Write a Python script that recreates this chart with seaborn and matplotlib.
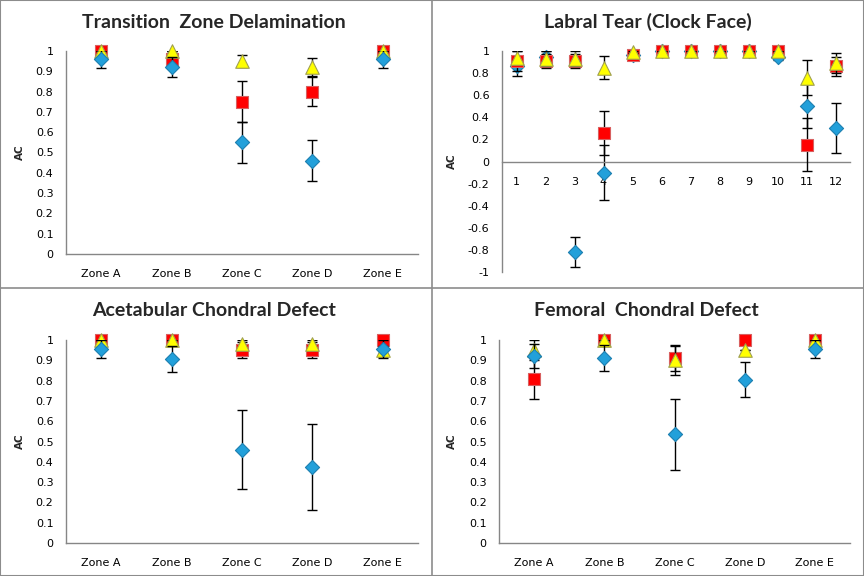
import matplotlib
matplotlib.use("Agg")
import matplotlib.pyplot as plt
import numpy as np
import pandas as pd
import seaborn as sns

### Data ###

zones = ["Zone A", "Zone B", "Zone C", "Zone D", "Zone E"]
clock = [str(i) for i in range(1, 13)]

# Transition Zone Delamination
tzd_blue = [0.96, 0.92, 0.55, 0.46, 0.96]
tzd_blue_err = [0.045, 0.05, 0.10, 0.10, 0.045]
tzd_red = [1.0, 0.96, 0.75, 0.80, 1.0]
tzd_red_err = [0.0, 0.04, 0.10, 0.07, 0.0]
tzd_yellow = [1.0, 1.0, 0.95, 0.92, 1.0]
tzd_yellow_err = [0.0, 0.0, 0.03, 0.045, 0.0]

# Labral Tear (Clock Face)
lt_blue = [0.86, 0.95, -0.82, -0.10, 0.96, 1.0, 1.0, 1.0, 1.0, 0.95, 0.50, 0.30]
lt_blue_err = [0.09, 0.05, 0.135, 0.25, 0.04, 0.0, 0.0, 0.0, 0.0, 0.03, 0.20, 0.225]
lt_red = [0.91, 0.91, 0.91, 0.26, 0.96, 1.0, 1.0, 1.0, 1.0, 1.0, 0.15, 0.86]
lt_red_err = [0.09, 0.06, 0.06, 0.20, 0.03, 0.0, 0.0, 0.0, 0.0, 0.0, 0.24, 0.09]
lt_yellow = [0.94, 0.93, 0.93, 0.85, 0.99, 1.0, 1.0, 1.0, 1.0, 1.0, 0.76, 0.89]
lt_yellow_err = [0.06, 0.07, 0.07, 0.105, 0.01, 0.0, 0.0, 0.0, 0.0, 0.0, 0.16, 0.09]

# Acetabular Chondral Defect
acd_blue = [0.955, 0.905, 0.46, 0.375, 0.955]
acd_blue_err = [0.045, 0.065, 0.195, 0.21, 0.045]
acd_red = [1.0, 1.0, 0.95, 0.95, 1.0]
acd_red_err = [0.0, 0.0, 0.04, 0.04, 0.0]
acd_yellow = [1.0, 1.0, 0.98, 0.98, 0.95]
acd_yellow_err = [0.0, 0.0, 0.02, 0.02, 0.02]

# Femoral Chondral Defect
fcd_blue = [0.92, 0.91, 0.535, 0.805, 0.955]
fcd_blue_err = [0.06, 0.065, 0.175, 0.085, 0.045]
fcd_red = [0.81, 1.0, 0.91, 1.0, 1.0]
fcd_red_err = [0.10, 0.0, 0.065, 0.0, 0.0]
fcd_yellow = [0.95, 1.0, 0.90, 0.95, 1.0]
fcd_yellow_err = [0.05, 0.0, 0.07, 0.0, 0.0]

### Styles ###

series_style = {
    "blue": dict(marker="D", s=52, color="#22A0DA", edgecolor="#1C7FB0"),
    "red": dict(marker="s", s=68, color="#FF0000", edgecolor="#D86060"),
    "yellow": dict(marker="^", s=95, color="#FFFF00", edgecolor="#A0A050"),
}

panels = [
    dict(title="Transition  Zone Delamination", cats=zones,
         series={"blue": (tzd_blue, tzd_blue_err), "red": (tzd_red, tzd_red_err),
                 "yellow": (tzd_yellow, tzd_yellow_err)},
         order=["red", "yellow", "blue"], ylim=(0, 1), step=0.1,
         rect=[66 / 864, 1 - 254 / 576, 352 / 864, 203 / 576]),
    dict(title="Labral Tear (Clock Face)", cats=clock,
         series={"blue": (lt_blue, lt_blue_err), "red": (lt_red, lt_red_err),
                 "yellow": (lt_yellow, lt_yellow_err)},
         order=["blue", "red", "yellow"], ylim=(-1, 1), step=0.2,
         rect=[502 / 864, 1 - 272 / 576, 348 / 864, 221 / 576]),
    dict(title="Acetabular Chondral Defect", cats=zones,
         series={"blue": (acd_blue, acd_blue_err), "red": (acd_red, acd_red_err),
                 "yellow": (acd_yellow, acd_yellow_err)},
         order=["red", "yellow", "blue"], ylim=(0, 1), step=0.1,
         rect=[66 / 864, 1 - 543 / 576, 352 / 864, 203 / 576]),
    dict(title="Femoral  Chondral Defect", cats=zones,
         series={"blue": (fcd_blue, fcd_blue_err), "red": (fcd_red, fcd_red_err),
                 "yellow": (fcd_yellow, fcd_yellow_err)},
         order=["red", "yellow", "blue"], ylim=(0, 1), step=0.1,
         rect=[499 / 864, 1 - 543 / 576, 351 / 864, 203 / 576]),
]

### Plot ###

sns.set_style("white")
plt.rcParams["font.family"] = ["DejaVu Sans"]

fig = plt.figure(figsize=(8.64, 5.76), dpi=100)

for p in panels:
    ax = fig.add_axes(p["rect"])
    cats = p["cats"]

    for z, name in enumerate(p["order"]):
        vals, errs = p["series"][name]
        ax.errorbar(cats, vals, yerr=errs, fmt="none", ecolor="black",
                    elinewidth=1.0, capsize=3.5, capthick=1.0, zorder=2 + z * 2)
        st = series_style[name]
        df = pd.DataFrame({"cat": cats, "value": vals})
        sns.scatterplot(data=df, x="cat", y="value", ax=ax, marker=st["marker"],
                        s=st["s"], color=st["color"], edgecolor=st["edgecolor"],
                        linewidth=0.8, clip_on=False, zorder=3 + z * 2, legend=False)

    lo, hi = p["ylim"]
    ax.set_ylim(lo, hi)
    ax.set_xlim(-0.5, len(cats) - 0.5)
    ticks = np.round(np.arange(lo, hi + p["step"] / 2, p["step"]), 1) + 0.0
    ax.set_yticks(ticks)
    ax.set_yticklabels([f"{t:g}" if abs(t) > 1e-9 else "0" for t in ticks])

    for side in ["top", "right"]:
        ax.spines[side].set_visible(False)
    for side in ["left", "bottom"]:
        ax.spines[side].set_color("#868686")
        ax.spines[side].set_linewidth(1.0)
    if lo < 0:
        ax.spines["bottom"].set_position(("data", 0))

    ax.tick_params(axis="both", length=0, labelsize=8, colors="black")
    ax.tick_params(axis="y", pad=9)
    ax.tick_params(axis="x", pad=11)

    ax.set_xlabel("")
    ax.set_ylabel("AC", fontsize=7.5, fontweight="bold")
    x0 = p["rect"][0] * 864
    ax.yaxis.set_label_coords(-(x0 - (25 if x0 < 432 else 457)) / (p["rect"][2] * 864), 0.5)

    cx = p["rect"][0] + p["rect"][2] / 2 - (28 / 864)
    cy = (1 - 22 / 576) if p["rect"][1] > 0.5 else (1 - 311 / 576)
    fig.text(cx, cy, p["title"], ha="center", va="center", fontsize=14,
             fontweight="bold", family=["Lato", "DejaVu Sans"])

# panel dividers and outer border
fig.add_artist(plt.Line2D([0.5, 0.5], [0, 1], color="#8C8C8C", lw=1.2))
fig.add_artist(plt.Line2D([0, 1], [0.5, 0.5], color="#8C8C8C", lw=1.2))
fig.add_artist(plt.Rectangle((0, 0), 1, 1, fill=False, edgecolor="#8C8C8C", lw=1.5))

fig.savefig("out.png", dpi=100)
